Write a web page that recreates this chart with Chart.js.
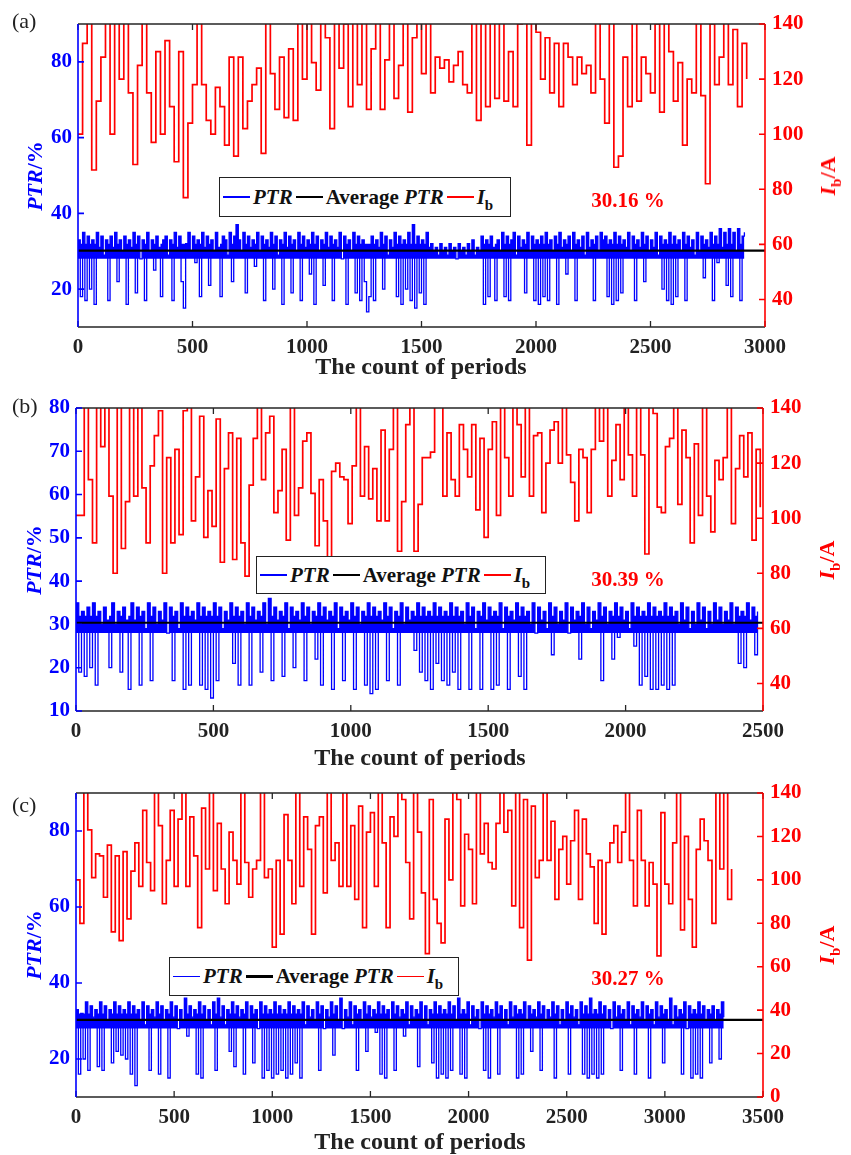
<!DOCTYPE html>
<html>
<head>
<meta charset="utf-8">
<script src="https://cdn.jsdelivr.net/npm/chart.js@4.4.1/dist/chart.umd.min.js"></script>
<style>
  body { margin: 0; background: #fff; }
  #page { position: relative; width: 851px; height: 1155px; font-family: 'Liberation Serif', 'Times New Roman', serif; }
  .panel { position: absolute; left: 0; width: 851px; }
  .txt { position: absolute; white-space: nowrap; font-weight: bold; transform: translate(-50%, -50%); }
  .ytitle { position: absolute; white-space: nowrap; font-weight: bold; font-size: 22px; transform: translate(-50%, -50%) rotate(-90deg); }
  .xtitle { font-size: 24px; color: #222; }
  .plabel { position: absolute; font-size: 22px; color: #222; }
  .note { font-size: 21px; color: #f00; }
  .legend { position: absolute; box-sizing: border-box; border: 1.5px solid #222; background: #fff;
            display: flex; align-items: center; padding-left: 3px; font-weight: bold; font-size: 21px; color: #111; }
  .legend .sw { display: inline-block; width: 27px; height: 1.5px; margin-right: 3px; }
  .legend .t { margin-right: 3px; }
  sub { font-size: 15px; vertical-align: -6px; line-height: 0; }
</style>
</head>
<body>
<div id="page">
  <div class="panel" style="top:0;height:380px"><canvas id="chartA"></canvas></div>
  <div class="panel" style="top:380px;height:385px"><canvas id="chartB"></canvas></div>
  <div class="panel" style="top:765px;height:390px"><canvas id="chartC"></canvas></div>

  <!-- panel (a) -->
  <div class="plabel" style="left:12px;top:8px">(a)</div>
  <div class="ytitle" style="left:35px;top:176px;color:#0000ff"><i>PTR</i>/%</div>
  <div class="ytitle" style="left:828px;top:176px;color:#ff0000"><i>I</i><sub>b</sub>/A</div>
  <div class="txt xtitle" style="left:421px;top:366px">The count of periods</div>
  <div class="legend" style="left:219px;top:177px;width:292px;height:40px">
    <span class="sw" style="background:#0000ff"></span><span class="t"><i>PTR</i></span>
    <span class="sw" style="background:#000;height:2.5px"></span><span class="t">Average <i>PTR</i></span>
    <span class="sw" style="background:#ff0000"></span><span class="t"><i>I</i><sub>b</sub></span>
  </div>
  <div class="txt note" id="noteA" style="left:628px;top:200px"></div>

  <!-- panel (b) -->
  <div class="plabel" style="left:12px;top:393px">(b)</div>
  <div class="ytitle" style="left:34px;top:560px;color:#0000ff"><i>PTR</i>/%</div>
  <div class="ytitle" style="left:827px;top:560px;color:#ff0000"><i>I</i><sub>b</sub>/A</div>
  <div class="txt xtitle" style="left:420px;top:757px">The count of periods</div>
  <div class="legend" style="left:256px;top:556px;width:290px;height:38px">
    <span class="sw" style="background:#0000ff"></span><span class="t"><i>PTR</i></span>
    <span class="sw" style="background:#000;height:2.5px"></span><span class="t">Average <i>PTR</i></span>
    <span class="sw" style="background:#ff0000"></span><span class="t"><i>I</i><sub>b</sub></span>
  </div>
  <div class="txt note" id="noteB" style="left:628px;top:579px"></div>

  <!-- panel (c) -->
  <div class="plabel" style="left:12px;top:792px">(c)</div>
  <div class="ytitle" style="left:34px;top:945px;color:#0000ff"><i>PTR</i>/%</div>
  <div class="ytitle" style="left:827px;top:945px;color:#ff0000"><i>I</i><sub>b</sub>/A</div>
  <div class="txt xtitle" style="left:420px;top:1141px">The count of periods</div>
  <div class="legend" style="left:169px;top:957px;width:290px;height:39px">
    <span class="sw" style="background:#0000ff"></span><span class="t"><i>PTR</i></span>
    <span class="sw" style="background:#000;height:2.5px"></span><span class="t">Average <i>PTR</i></span>
    <span class="sw" style="background:#ff0000"></span><span class="t"><i>I</i><sub>b</sub></span>
  </div>
  <div class="txt note" id="noteC" style="left:628px;top:978px"></div>
</div>

<script>
// --- Data ---

// (a) PTR (%), one value every 10 periods
const ptrStepA = 10;
const ptrA = [
  33,18,35,17,34,20,33,16,35,31, 34,29,33,17,34,31,35,22,33,30,
  34,16,33,31,35,19,34,28,33,17, 35,30,33,25,34,31,18,33,34,29,
  33,17,35,31,34,22,15,32,35,30, 34,27,33,18,35,31,34,21,33,30,
  35,31,18,34,33,29,35,22,34,37, 33,30,35,19,34,31,33,26,35,30,
  34,17,33,31,35,20,34,29,33,16, 35,31,34,19,33,30,35,17,34,31,
  33,24,35,16,34,30,33,21,35,31, 34,17,33,31,35,28,34,16,33,30,
  35,19,34,17,33,22,14,18,34,17, 33,31,35,20,34,29,33,31,35,18,
  34,16,33,20,35,17,37,15,34,19, 33,16,35,31,32,30,31,29,32,30,
  31,29,32,30,31,28,32,30,31,29, 32,30,33,29,31,30,34,16,33,18,
  34,31,17,33,30,35,18,34,17,33, 35,29,34,31,33,19,35,30,34,17,
  33,16,34,18,35,17,33,30,34,16, 35,31,33,24,34,30,35,17,33,31,
  34,29,35,31,33,17,34,30,35,33, 34,18,33,16,35,17,34,19,33,31,
  35,30,34,17,33,31,35,22,34,30, 33,31,35,29,34,20,33,17,35,16,
  34,18,33,30,35,17,34,31,33,29, 35,30,34,23,33,31,35,17,34,27,
  36,31,35,21,36,18,35,30,36,17, 34,35
];
// (a) Ib (A), one value every 20 periods (values above 140 are cut by the frame)
const ibStepA = 20;
const ibA = [
  100,133,150,87,112,128,150,100,150,120, 150,115,89,125,150,115,97,130,100,134,
  110,90,130,77,104,118,150,118,105,100, 117,110,96,128,92,128,102,112,118,124,
  93,150,122,109,128,106,131,105,150,120, 150,126,116,150,135,102,150,124,140,110,
  150,118,150,109,131,150,109,127,150,113, 125,150,108,135,150,122,150,115,128,124,
  127,119,125,130,118,115,150,105,150,110, 150,113,150,112,130,110,140,150,96,150,
  137,120,135,115,133,110,133,128,118,128, 122,125,115,150,120,104,150,88,92,128,
  110,150,112,128,122,115,140,108,150,130, 112,126,96,120,115,150,114,82,140,118,
  128,150,118,138,110,133,120
];
const avgA = 30.16;
const xMaxA = 3000;
const ptrTicksA = [20, 40, 60, 80];
const ibTicksA = [40, 60, 80, 100, 120, 140];

// (b)
const ptrStepB = 10;
const ptrB = [
  35,19,33,18,34,20,35,16,33,30, 34,31,20,35,30,33,19,34,31,15,
  35,31,34,16,33,29,35,17,34,30, 33,31,35,28,34,17,33,29,35,15,
  34,16,33,31,35,16,34,15,33,13, 35,17,34,29,33,31,35,21,34,16,
  33,30,35,16,34,31,33,19,35,30, 36,17,34,31,33,18,35,29,34,20,
  33,31,35,17,34,30,33,22,35,16, 34,31,33,15,35,29,34,17,33,31,
  35,15,34,30,33,16,35,14,34,15, 33,31,35,17,34,29,33,16,35,30,
  34,31,33,24,35,19,34,17,33,15, 35,21,34,17,33,16,35,19,34,15,
  33,30,35,15,34,29,33,15,35,31, 34,15,33,16,35,29,34,15,33,31,
  35,18,34,15,33,30,35,28,34,31, 33,29,35,23,34,30,33,31,35,28,
  34,31,33,22,35,30,34,29,33,31, 35,17,34,30,33,22,35,27,34,31,
  33,29,35,25,34,16,33,18,35,15, 34,15,33,16,35,15,34,16,33,30,
  35,31,34,29,33,30,35,31,34,29, 33,30,35,31,34,30,33,31,35,30,
  34,21,33,20,35,31,34,23,33
];
const ibStepB = 15;
const ibB = [
  101,101,150,114,91,150,126,150,108,80, 150,89,106,150,108,150,111,91,119,130,
  139,80,122,91,125,94,139,150,99,115, 137,93,110,97,136,84,118,131,85,129,
  91,79,112,129,150,114,131,137,102,110, 125,92,150,101,111,128,131,109,90,114,
  99,86,117,120,115,114,98,119,150,108, 126,107,118,99,132,99,125,150,88,106,
  134,150,88,105,122,122,124,150,150,108, 131,114,108,134,125,115,134,103,129,93,
  125,135,101,150,122,108,150,134,115,150, 108,130,131,102,120,132,135,120,150,123,
  113,99,125,122,102,125,150,128,150,108, 121,134,114,150,123,108,150,123,87,150,
  138,104,102,126,129,150,105,132,122,91, 127,101,150,108,95,121,114,122,150,98,
  118,130,115,131,92,125,104
];
const avgB = 30.39;
const xMaxB = 2500;
const ptrTicksB = [10, 20, 30, 40, 50, 60, 70, 80];
const ibTicksB = [40, 60, 80, 100, 120, 140];

// (c)
const ptrStepC = 12;
const ptrC = [
  33,16,32,20,35,17,34,31,33,18, 35,17,34,30,33,19,35,22,34,21,
  33,20,35,16,34,13,33,30,35,29, 34,17,33,31,35,16,34,30,33,15,
  35,31,34,28,33,30,36,26,34,31, 33,16,35,15,34,30,33,29,35,17,
  36,31,34,29,33,22,35,18,34,31, 33,16,35,30,34,19,33,28,35,15,
  34,17,33,15,35,16,34,17,33,15, 35,16,34,19,33,15,35,29,34,31,
  33,30,35,17,34,28,33,31,35,21, 34,30,36,28,33,31,35,29,34,17,
  33,30,35,22,34,31,33,27,35,16, 34,15,33,30,35,17,34,31,33,26,
  35,29,34,31,33,18,35,30,34,29, 33,19,35,15,34,16,33,15,35,17,
  34,30,36,16,33,15,35,29,34,31, 33,28,35,17,34,15,33,31,35,16,
  34,30,33,29,35,31,34,15,33,16, 35,30,34,22,33,31,35,17,34,30,
  33,31,35,15,34,29,33,30,35,16, 34,31,33,29,35,16,34,15,36,16,
  33,15,35,16,34,30,33,28,35,31, 34,17,33,30,35,29,34,16,33,31,
  35,30,34,15,33,29,35,31,34,19, 33,30,36,29,34,31,33,16,35,28,
  34,15,33,16,35,15,34,30,33,19, 34,30,33,20,35,31
];
const ibStepC = 20;
const ibC = [
  100,80,150,123,101,112,111,92,116,76, 111,72,113,82,104,117,97,132,108,95,
  150,125,89,109,132,97,128,150,97,129, 111,78,133,105,150,95,126,105,89,122,
  109,98,150,108,92,105,109,150,101,105, 69,109,75,130,109,89,150,97,129,114,
  75,125,129,94,150,109,117,97,150,97, 125,91,134,78,122,131,97,150,117,78,
  129,120,150,137,108,82,150,122,94,66, 137,91,80,71,128,100,150,137,88,121,
  114,89,150,112,126,108,105,126,150,122, 132,88,150,78,137,63,134,101,109,150,
  109,127,91,114,120,98,118,132,91,128, 112,106,80,109,75,108,117,125,108,122,
  150,109,88,132,109,88,108,98,65,131, 98,89,117,150,77,120,91,69,114,128,
  118,109,80,150,105,150,91,105
];
const avgC = 30.27;
const xMaxC = 3500;
const ptrTicksC = [20, 40, 60, 80];
const ibTicksC = [0, 20, 40, 60, 80, 100, 120, 140];

// --- Styling ---
const BLUE = '#0000ff';
const RED = '#ff0000';
const FONT = "'Liberation Serif', 'Times New Roman', serif";
// The real PTR trace has ~one sample per period, so between the dips it reads
// as a solid band. The band is painted under the trace: from BAND_FLOOR up to
// each sample, and to BAND_TOP where a sample is a dip.
const BAND_FLOOR = 28;
const BAND_TOP = 32;

function toPoints(values, step) {
    return values.map((v, i) => ({ x: i * step, y: v }));
}

// frame: MATLAB style box with inward ticks, coloured y axes
const framePlugin = {
    id: 'frame',
    afterDraw(chart) {
        const { ctx, chartArea: a } = chart;
        const sx = chart.scales.x, sy = chart.scales.y, sy2 = chart.scales.y2;
        ctx.save();
        ctx.lineWidth = 1.3;
        ctx.strokeStyle = '#262626';
        ctx.beginPath();
        sx.ticks.forEach(t => {
            const px = sx.getPixelForValue(t.value);
            ctx.moveTo(px, a.bottom); ctx.lineTo(px, a.bottom - 6);
            ctx.moveTo(px, a.top); ctx.lineTo(px, a.top + 6);
        });
        ctx.moveTo(a.left, a.top); ctx.lineTo(a.right, a.top);
        ctx.moveTo(a.left, a.bottom); ctx.lineTo(a.right, a.bottom);
        ctx.stroke();

        ctx.lineWidth = 1.6;
        ctx.strokeStyle = BLUE;
        ctx.beginPath();
        ctx.moveTo(a.left, a.top); ctx.lineTo(a.left, a.bottom);
        sy.ticks.forEach(t => {
            const py = sy.getPixelForValue(t.value);
            ctx.moveTo(a.left, py); ctx.lineTo(a.left + 6, py);
        });
        ctx.stroke();

        ctx.strokeStyle = RED;
        ctx.beginPath();
        ctx.moveTo(a.right, a.top); ctx.lineTo(a.right, a.bottom);
        sy2.ticks.forEach(t => {
            const py = sy2.getPixelForValue(t.value);
            ctx.moveTo(a.right, py); ctx.lineTo(a.right - 6, py);
        });
        ctx.stroke();
        ctx.restore();
    }
};

function makePanel(cfg) {
    const tickFont = { family: FONT, size: 21, weight: 'bold' };
    const fixTicks = arr => scale => { scale.ticks = arr.map(v => ({ value: v })); };
    const band = cfg.ptr.map(v => (v >= BAND_FLOOR ? v : BAND_TOP));
    return new Chart(document.getElementById(cfg.id), {
        type: 'line',
        data: {
            datasets: [
                {
                    label: 'Average PTR',
                    data: [{ x: 0, y: cfg.avg }, { x: cfg.xMax, y: cfg.avg }],
                    borderColor: '#000', borderWidth: 2.2, yAxisID: 'y'
                },
                {
                    label: 'PTR',
                    data: toPoints(cfg.ptr, cfg.ptrStep),
                    borderColor: BLUE, borderWidth: 1.3, stepped: true, yAxisID: 'y'
                },
                {
                    label: 'PTR band',
                    data: toPoints(band, cfg.ptrStep),
                    borderWidth: 0, borderColor: 'rgba(0,0,0,0)', backgroundColor: BLUE,
                    stepped: true, yAxisID: 'y', fill: { value: BAND_FLOOR }
                },
                {
                    label: 'Ib',
                    data: toPoints(cfg.ib, cfg.ibStep),
                    borderColor: RED, borderWidth: 1.7, stepped: true, yAxisID: 'y2'
                }
            ]
        },
        options: {
            responsive: true,
            maintainAspectRatio: false,
            animation: false,
            events: [],
            elements: { point: { radius: 0 }, line: { tension: 0 } },
            layout: { padding: { top: cfg.top, left: 0, right: 0, bottom: 0 } },
            plugins: { legend: { display: false }, tooltip: { enabled: false } },
            scales: {
                x: {
                    type: 'linear', min: 0, max: cfg.xMax,
                    grid: { display: false, drawTicks: false },
                    border: { display: false },
                    ticks: { stepSize: 500, autoSkip: false, maxRotation: 0, padding: 8,
                             color: '#222', font: tickFont, callback: v => String(v) },
                    afterFit: s => { s.height = cfg.bottomH; }
                },
                y: {
                    position: 'left', min: cfg.ptrMin, max: cfg.ptrMax,
                    grid: { display: false, drawTicks: false },
                    border: { display: false },
                    ticks: { padding: 6, color: BLUE, font: tickFont, callback: v => String(v) },
                    afterBuildTicks: fixTicks(cfg.ptrTicks),
                    afterFit: s => { s.width = cfg.leftW; }
                },
                y2: {
                    position: 'right', min: cfg.ibMin, max: cfg.ibMax,
                    grid: { display: false, drawTicks: false },
                    border: { display: false },
                    ticks: { padding: 7, color: RED, font: tickFont, callback: v => String(v) },
                    afterBuildTicks: fixTicks(cfg.ibTicks),
                    afterFit: s => { s.width = cfg.rightW; }
                }
            }
        },
        plugins: [framePlugin]
    });
}

makePanel({ id: 'chartA', ptr: ptrA, ptrStep: ptrStepA, ib: ibA, ibStep: ibStepA, avg: avgA, xMax: xMaxA,
            ptrMin: 10, ptrMax: 90, ptrTicks: ptrTicksA, ibMin: 30, ibMax: 140, ibTicks: ibTicksA,
            top: 24, bottomH: 53, leftW: 78, rightW: 86 });
makePanel({ id: 'chartB', ptr: ptrB, ptrStep: ptrStepB, ib: ibB, ibStep: ibStepB, avg: avgB, xMax: xMaxB,
            ptrMin: 10, ptrMax: 80, ptrTicks: ptrTicksB, ibMin: 30, ibMax: 140, ibTicks: ibTicksB,
            top: 28, bottomH: 54, leftW: 76, rightW: 88 });
makePanel({ id: 'chartC', ptr: ptrC, ptrStep: ptrStepC, ib: ibC, ibStep: ibStepC, avg: avgC, xMax: xMaxC,
            ptrMin: 10, ptrMax: 90, ptrTicks: ptrTicksC, ibMin: 0, ibMax: 140, ibTicks: ibTicksC,
            top: 28, bottomH: 58, leftW: 76, rightW: 88 });

document.getElementById('noteA').textContent = avgA.toFixed(2) + ' %';
document.getElementById('noteB').textContent = avgB.toFixed(2) + ' %';
document.getElementById('noteC').textContent = avgC.toFixed(2) + ' %';
</script>
</body>
</html>
